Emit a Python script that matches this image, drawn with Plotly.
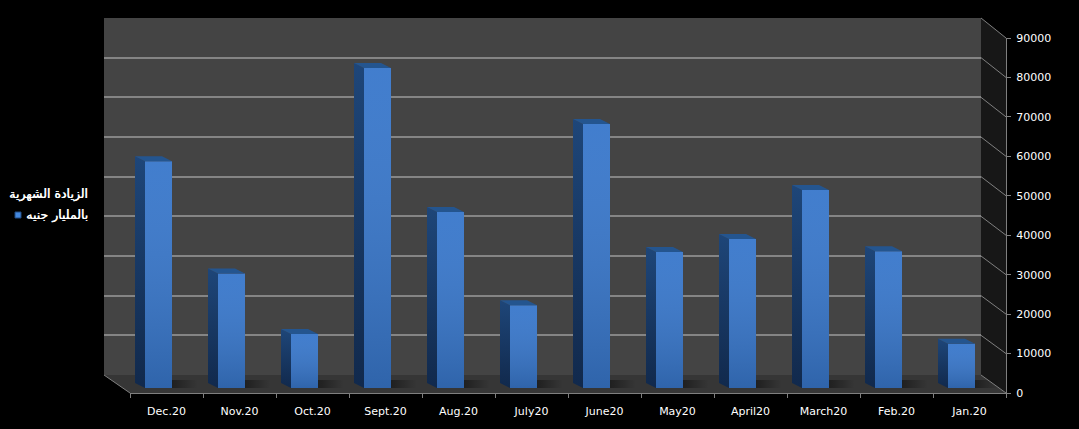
import plotly.graph_objects as go

W, H = 1079, 429

months = ["Dec.20", "Nov.20", "Oct.20", "Sept.20", "Aug.20", "July20",
          "June20", "May20", "April20", "March20", "Feb.20", "Jan.20"]
values = [57500, 29000, 13700, 81100, 44600, 21000,
          66900, 34500, 37800, 50200, 34700, 11200]
y_ticks = [0, 10000, 20000, 30000, 40000, 50000, 60000, 70000, 80000, 90000]
legend_lines = ["الزيادة الشهرية", "بالمليار جنيه"]

FONT = "DejaVu Sans"
YMAX = 90000


def px(x):
    return x / W


def py(y):
    return 1 - y / H


# depth of a bar, in axis units (10 px left, 5 px up)
BAR_W = 0.37
DEPTH_X = 10 / 73
DEPTH_Y = 5 / (355 / YMAX)

fig = go.Figure()

# back wall gridlines, needs a trace so that the axes get drawn
fig.add_trace(go.Scatter(x=[0], y=[0], mode="none", hoverinfo="skip", showlegend=False,
                         xaxis="x", yaxis="y"))

# floor shadows beside the bars
for i in range(len(values)):
    right = i + BAR_W / 2
    fig.add_trace(go.Scatter(
        x=[right, right + 0.35, right + 0.35, right, right],
        y=[0, 0, DEPTH_Y * 1.6, DEPTH_Y * 1.6, 0],
        mode="lines", line=dict(width=0), fill="toself",
        fillgradient=dict(type="horizontal",
                          colorscale=[[0, "rgba(0,0,0,0.42)"], [1, "rgba(0,0,0,0)"]]),
        hoverinfo="skip", showlegend=False, xaxis="x2", yaxis="y2"))

# front faces
fig.add_trace(go.Bar(x=list(range(len(values))), y=values, width=BAR_W,
                     marker=dict(color="#3877cb", line=dict(width=0)),
                     hovertext=months, hoverinfo="text+y", showlegend=False,
                     xaxis="x2", yaxis="y2"))

for i, v in enumerate(values):
    left = i - BAR_W / 2
    right = i + BAR_W / 2
    # shading of the front face
    fig.add_trace(go.Scatter(
        x=[left, right, right, left, left], y=[0, 0, v, v, 0],
        mode="lines", line=dict(width=0), fill="toself",
        fillgradient=dict(type="vertical",
                          colorscale=[[0, "rgba(0,0,0,0.16)"], [1, "rgba(255,255,255,0.05)"]]),
        hoverinfo="skip", showlegend=False, xaxis="x2", yaxis="y2"))
    # side face
    fig.add_trace(go.Scatter(
        x=[left, left, left - DEPTH_X, left - DEPTH_X, left],
        y=[0, v, v + DEPTH_Y, DEPTH_Y, 0],
        mode="lines", line=dict(width=0), fill="toself",
        fillgradient=dict(type="vertical",
                          colorscale=[[0, "#11294c"], [1, "#1e4679"]]),
        hoverinfo="skip", showlegend=False, xaxis="x2", yaxis="y2"))
    # top face
    fig.add_trace(go.Scatter(
        x=[left, right, right - DEPTH_X, left - DEPTH_X, left],
        y=[v, v, v + DEPTH_Y, v + DEPTH_Y, v],
        mode="lines", line=dict(width=0), fill="toself", fillcolor="#24558f",
        hoverinfo="skip", showlegend=False, xaxis="x2", yaxis="y2"))

# front axes with the labels
fig.add_trace(go.Scatter(x=months, y=values, mode="none", hoverinfo="skip", showlegend=False,
                         xaxis="x3", yaxis="y3"))

# walls and floor
shapes = [
    dict(type="rect", xref="paper", yref="paper", layer="below", line_width=0, fillcolor="#444444",
         x0=px(104), x1=px(981), y0=py(375), y1=py(18)),
    dict(type="path", xref="paper", yref="paper", layer="below", line_width=0, fillcolor="#171717",
         path=f"M {px(981)} {py(18)} L {px(1006)} {py(38)} L {px(1006)} {py(393)} L {px(981)} {py(375)} Z"),
    dict(type="path", xref="paper", yref="paper", layer="below", line_width=0, fillcolor="#363636",
         path=f"M {px(104)} {py(375)} L {px(981)} {py(375)} L {px(1006)} {py(393)} L {px(130)} {py(393)} Z"),
    dict(type="line", xref="paper", yref="paper", line=dict(color="#7f7f7f", width=1),
         x0=px(104), x1=px(130), y0=py(375), y1=py(393)),
    # legend swatch
    dict(type="rect", xref="paper", yref="paper", fillcolor="#4488dd", line=dict(color="#1f4a82", width=1),
         x0=px(15), x1=px(21), y0=py(218), y1=py(212)),
]
# oblique gridlines on the side wall
for t in y_ticks:
    f = t / YMAX
    shapes.append(dict(type="line", xref="paper", yref="paper", line=dict(color="#7f7f7f", width=1),
                       x0=px(981), x1=px(1006),
                       y0=py(375 - f * 357), y1=py(393 - f * 355)))

annotations = []
for line, y in zip(legend_lines, [194, 215]):
    annotations.append(dict(text=line, xref="paper", yref="paper", x=px(90), y=py(y),
                            xanchor="right", yanchor="middle", showarrow=False,
                            font=dict(family=FONT, size=12.5, color="white", shadow="0.5px 0 0 white")))

fig.update_layout(
    width=W, height=H,
    margin=dict(l=0, r=0, t=0, b=0, autoexpand=False),
    paper_bgcolor="black", plot_bgcolor="rgba(0,0,0,0)",
    showlegend=False,
    shapes=shapes, annotations=annotations,
    font=dict(family=FONT, size=11, color="white"),
    # back wall
    xaxis=dict(domain=[px(104), px(981)], range=[0, 1], visible=False, automargin=False),
    yaxis=dict(domain=[py(375), py(18)], range=[0, YMAX], tickvals=y_ticks, showticklabels=False,
               showgrid=True, gridcolor="#858585", gridwidth=1.5, zeroline=False, ticks="", showline=False,
               automargin=False),
    # bars
    xaxis2=dict(domain=[px(122), px(998)], range=[-0.5, 11.5], visible=False, automargin=False),
    yaxis2=dict(domain=[py(388), py(33)], range=[0, YMAX], visible=False, automargin=False),
    # front axes
    xaxis3=dict(domain=[px(130), px(1006)], type="category", categoryorder="array", categoryarray=months,
                range=[-0.5, 11.5], tickson="boundaries", ticks="outside", ticklen=4, tickcolor="#7f7f7f",
                showline=True, linecolor="#7f7f7f", showgrid=False, zeroline=False, automargin=False,
                ticklabelstandoff=8, tickfont=dict(size=11, color="white"), anchor="y3"),
    yaxis3=dict(domain=[py(393), py(38)], range=[0, YMAX], tickvals=y_ticks, tickformat="d", side="right",
                ticks="outside", ticklen=4, tickcolor="#7f7f7f", showline=True, linecolor="#7f7f7f",
                showgrid=False, zeroline=False, automargin=False, ticklabelstandoff=3,
                tickfont=dict(size=11, color="white"), anchor="x3"),
)

# the browser's default body margin would push the chart off the window
fig.write_html("out.html", config={"displayModeBar": False},
               post_script="document.body.style.margin='0';document.body.style.background='black';")
